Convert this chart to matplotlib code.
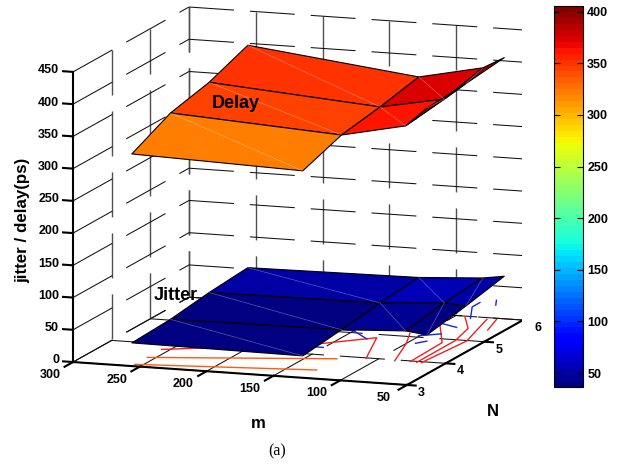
import numpy as np
import matplotlib
matplotlib.use('Agg')
import matplotlib.pyplot as plt
from matplotlib.cm import ScalarMappable
from matplotlib.colors import Normalize
from mpl_toolkits.mplot3d import proj3d
from mpl_toolkits.mplot3d.art3d import Poly3DCollection

nan = float('nan')

#Surface grid
m_vals = [64, 80, 128, 256]
N_vals = [3, 4, 5, 6]
delay_z = [[nan, nan, 321, 329],
           [394, 364, 343, 359],
           [398, 372, 353, 373],
           [405, 387, 366, 397]]
jitter_z = [[nan, nan, 34, 36],
            [42, 46, 41, 39],
            [53, 56, 49, 47],
            [66, 61, 55, 52]]

#Ticks
m_ticks = [300, 250, 200, 150, 100, 50]
N_ticks = [3, 4, 5, 6]
z_ticks = [0, 50, 100, 150, 200, 250, 300, 350, 400, 450]
cbar_ticks = [50, 100, 150, 200, 250, 300, 350, 400]
cbar_min = 36.5
cbar_max = 405.5

#Contours on the floor (m, N)
orange_m = [[256, 128], [256, 128]]
orange_N = [[3.08, 3.36], [3.40, 3.88]]
red_m = [[256, 159, 126.5, 109], [87, 100, 109.5], [75.7, 77, 99.4],
         [70.5, 70.7, 76.6, 92.6], [67, 62.6, 75], [61.6, 68.4]]
red_N = [[3.77, 4.43, 4.86, 3.98], [3.96, 4.71, 5.13], [3.97, 4.84, 5.56],
         [3.96, 4.96, 5.5, 5.97], [3.96, 4.98, 5.93], [5.49, 5.95]]
blue_m = [[161, 150, 131.6], [157, 150.6], [94, 89], [101, 88], [100, 85.5],
          [99.6, 99.6, 87], [91.3, 86]]
blue_N = [[5.1, 5.08, 4.78], [4.31, 4.31], [4.74, 4.86], [5.06, 5.2], [5.63, 5.51],
          [6.6, 6.4, 5.92], [6.74, 6.54]]

plt.rcParams['font.family'] = ['Liberation Sans', 'DejaVu Sans']
plt.rcParams['font.weight'] = 'bold'
plt.rcParams['lines.scale_dashes'] = False

W, H = 618, 466
fig = plt.figure(figsize=(W / 100, H / 100), dpi=100)

#Square 3D axes, box placed by hand to sit where the reference has it
S = 460
ax = fig.add_axes([61.8 / W, 33.8 / H, S / W, S / H], projection='3d', proj_type='ortho')
ax.computed_zorder = False
ax.view_init(elev=11.3, azim=-70.7)
ax.set_box_aspect((354, 351, 296), zoom=562.6 / S)
ax.set_axis_off()

norm = Normalize(cbar_min, cbar_max)
jet = plt.get_cmap('jet', 64)
dash = (32.4, 11.5)
grid_kw = dict(color='#111111', lw=0.75, dashes=dash, zorder=1)
vert_kw = dict(color='#505050', lw=1.0, dashes=dash, zorder=1)

m0, m1 = m_ticks[0], m_ticks[-1]
N0, N1 = N_ticks[0], N_ticks[-1]
z0, z1 = z_ticks[0], z_ticks[-1]

#Back wall, left wall and floor grids
for m in m_ticks:
    ax.plot([m, m], [N1, N1], [z1, z0], **vert_kw)
    ax.plot([m, m], [N0, N1], [z0, z0], **grid_kw)
for N in N_ticks[1:]:
    ax.plot([m0, m0], [N, N], [z1, z0], **vert_kw)
for N in N_ticks:
    ax.plot([m1, m0], [N, N], [z0, z0], **grid_kw)
for z in z_ticks:
    ax.plot([m0, m1], [N1, N1], [z, z], **grid_kw)
    ax.plot([m0, m0], [N0, N1], [z, z], **grid_kw)

#Contours
for xs, ys in zip(orange_m, orange_N):
    ax.plot(xs, ys, [0] * len(xs), color='#ff5a10', lw=1.0, zorder=2)
for xs, ys in zip(red_m, red_N):
    ax.plot(xs, ys, [0] * len(xs), color='#f02020', lw=1.0, zorder=2)
for xs, ys in zip(blue_m, blue_N):
    ax.plot(xs, ys, [0] * len(xs), color='#2020e0', lw=1.0, zorder=2)


#Draw one surface, each cell takes the colour of its first corner like flat shading
def draw_surface(z_grid, order):
    z_grid = np.array(z_grid, dtype=float)
    verts = []
    colors = []
    for i in range(len(N_vals) - 1):
        for j in range(len(m_vals) - 1):
            corners = [(i, j), (i, j + 1), (i + 1, j + 1), (i + 1, j)]
            if any(np.isnan(z_grid[a, b]) for a, b in corners):
                continue
            verts.append([(m_vals[b], N_vals[a], z_grid[a, b]) for a, b in corners])
            colors.append(jet(norm(z_grid[i, j])))
            #faint diagonal left in each cell
            ax.plot([m_vals[j + 1], m_vals[j]], [N_vals[i + 1], N_vals[i]],
                    [z_grid[i + 1, j + 1], z_grid[i, j]],
                    color='white', lw=0.5, alpha=0.35, zorder=order + 0.5)
    poly = Poly3DCollection(verts, facecolors=colors, edgecolors='black',
                            linewidths=0.8, zorder=order)
    ax.add_collection3d(poly)


draw_surface(jitter_z, 3)
draw_surface(delay_z, 4)

#Axis lines and ticks
axis_kw = dict(color='black', lw=1.5, zorder=5, solid_capstyle='projecting')
ax.plot([m0, m1], [N0, N0], [z0, z0], **axis_kw)
ax.plot([m1, m1], [N0, N1], [z0, z0], **axis_kw)
ax.plot([m0, m0], [N0, N0], [z0, z1], **axis_kw)
for m in m_ticks:
    ax.plot([m, m], [N0, N0 - 0.22], [z0, z0], **axis_kw)
for N in N_ticks:
    ax.plot([m1, m1 - 6.5], [N, N], [z0, z0], **axis_kw)
for z in z_ticks:
    ax.plot([m0, m0 + 7.5], [N0, N0], [z, z], **axis_kw)

ax.set_xlim(m0, m1, view_margin=0)
ax.set_ylim(N0, N1, view_margin=0)
ax.set_zlim(z0, z1, view_margin=0)


#Tick labels go at the projected spot of their 3D position
def label_3d(x, y, z, s, **kw):
    xs, ys, _ = proj3d.proj_transform(x, y, z, ax.get_proj())
    ax.text2D(xs, ys, s, transform=ax.transData, fontsize=9, va='center', **kw)


for m in m_ticks:
    label_3d(m, N0 - 0.6, z0, str(m), ha='center')
for N in N_ticks:
    label_3d(m1 - 11, N, -11, str(N), ha='center')
for z in z_ticks:
    label_3d(m0 + 10.5, N0, z + 1, str(z), ha='right')

#Labels
fig.text(23 / W, 1 - 220 / H, 'jitter / delay(ps)', rotation=90, ha='center', va='center', fontsize=12.2)
fig.text(258 / W, 1 - 423 / H, 'm', ha='center', va='center', fontsize=12)
fig.text(493 / W, 1 - 412 / H, 'N', ha='center', va='center', fontsize=12)
fig.text(236 / W, 1 - 103 / H, 'Delay', ha='center', va='center', fontsize=13)
fig.text(176 / W, 1 - 295 / H, 'Jitter', ha='center', va='center', fontsize=13)
fig.text(277 / W, 1 - 451 / H, '(a)', ha='center', va='center', fontsize=11.5,
         family='Liberation Serif', weight='normal')

#Colorbar
cax = fig.add_axes([554 / W, 1 - 387 / H, 29 / W, 381 / H])
cb = fig.colorbar(ScalarMappable(norm=norm, cmap=jet), cax=cax, ticks=cbar_ticks)
cb.outline.set_linewidth(0.8)
cax.tick_params(axis='y', which='both', left=True, right=True, direction='in',
                length=4, width=0.8, labelsize=9, pad=3)

fig.savefig('out.png', dpi=100)
